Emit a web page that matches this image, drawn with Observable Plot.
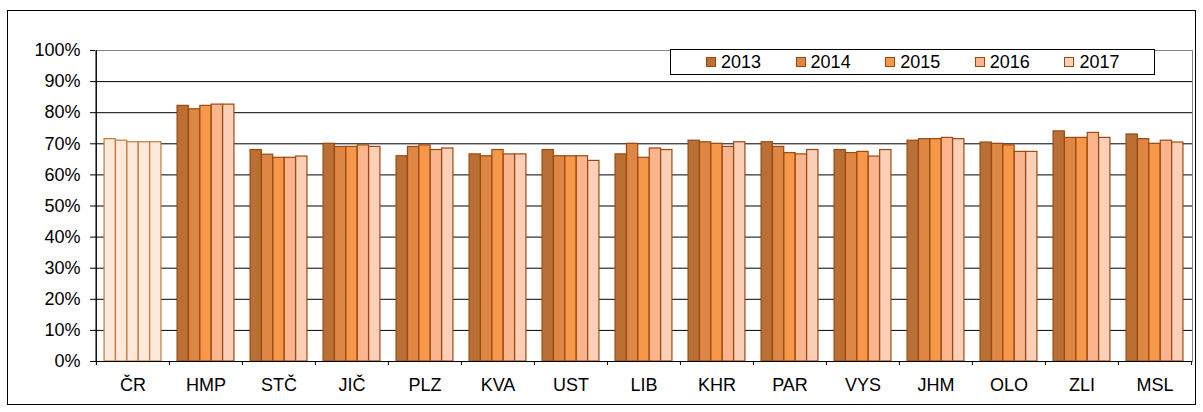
<!DOCTYPE html>
<html><head><meta charset="utf-8">
<script src="https://cdn.jsdelivr.net/npm/d3@7"></script>
<script src="https://cdn.jsdelivr.net/npm/@observablehq/plot@0.6"></script>
<style>
body{margin:0;background:#fff;}
#wrap{position:relative;width:1203px;height:412px;font-family:"Liberation Sans",Arial,sans-serif;color:#000;overflow:hidden}
#chart{position:absolute;left:0;top:0}
#outer{position:absolute;left:7px;top:10px;width:1189px;height:395px;border:1px solid #000;box-sizing:border-box;pointer-events:none}
#legend{position:absolute;left:670px;top:49px;width:485px;height:26px;border:1px solid #000;background:#fff;box-sizing:border-box;display:flex;align-items:center;padding-left:35px}
.item{display:flex;align-items:center;width:91.3px;font-size:18px;line-height:1}
.sw{width:10px;height:10px;border:1px solid #9a4a10;box-sizing:border-box;margin-right:5px}
</style>
</head><body>
<div id="wrap"><div id="chart"></div><div id="outer"></div><div id="legend"></div></div>
<script>
const regions = ["ČR","HMP","STČ","JIČ","PLZ","KVA","UST","LIB","KHR","PAR","VYS","JHM","OLO","ZLI","MSL"];
const years = ["2013","2014","2015","2016","2017"];
const v2013 = [71.5, 82.2, 68.0, 70.0, 66.0, 66.6, 68.0, 66.6, 71.0, 70.5, 68.0, 71.0, 70.4, 74.0, 73.0];
const v2014 = [71.0, 81.1, 66.5, 69.0, 69.0, 66.0, 66.0, 70.0, 70.5, 69.0, 67.0, 71.5, 70.0, 71.9, 71.5];
const v2015 = [70.5, 82.2, 65.5, 69.0, 69.5, 68.0, 66.0, 65.5, 70.0, 67.0, 67.4, 71.5, 69.5, 71.9, 70.0];
const v2016 = [70.5, 82.6, 65.5, 69.5, 68.0, 66.6, 66.0, 68.5, 69.0, 66.6, 65.9, 71.9, 67.4, 73.5, 71.0];
const v2017 = [70.5, 82.6, 65.9, 69.0, 68.5, 66.6, 64.5, 68.0, 70.5, 68.0, 68.0, 71.5, 67.4, 71.9, 70.4];
const yTicks = [0, 0.1, 0.2, 0.3, 0.4, 0.5, 0.6, 0.7, 0.8, 0.9, 1.0];
const gridVals = [0.1, 0.2, 0.3, 0.4, 0.5, 0.6, 0.7, 0.8, 0.9];
const yearColors = ["#BA7035", "#DE8644", "#F7974A", "#FAB58E", "#FCD0B8"];
const crFill = "#FDE9D9", crStroke = "#C47A40", barStroke = "#9A4A10";

const series = [v2013, v2014, v2015, v2016, v2017];
const rows = [];
series.forEach((vals, yi) => vals.forEach((v, ri) => rows.push({region: regions[ri], year: years[yi], yi, value: v / 100})));

const W = 1203, H = 412, mL = 95, mR = 11, mT = 50, mB = 51;
const bw = (W - mL - mR) / regions.length;
const gw = 57, barW = gw / years.length, left0 = (bw - gw) / 2;

const barMarks = years.map((y, i) => Plot.barY(rows.filter(d => d.yi === i), {
  x: "region", y: "value",
  fill: d => d.region === "ČR" ? crFill : yearColors[i],
  stroke: d => d.region === "ČR" ? crStroke : barStroke,
  strokeWidth: 1.2,
  insetLeft: left0 + i * barW,
  insetRight: bw - left0 - (i + 1) * barW
}));

const plot = Plot.plot({
  width: W, height: H,
  marginLeft: mL, marginRight: mR, marginTop: mT, marginBottom: mB,
  style: {fontFamily: '"Liberation Sans", Arial, sans-serif', fontSize: "18px", color: "#000", background: "transparent"},
  x: {domain: regions, padding: 0},
  y: {domain: [0, 1]},
  color: {type: "identity"},
  marks: [
    Plot.frame({stroke: "#868686"}),
    Plot.ruleY(gridVals, {stroke: "#000", strokeWidth: 1}),
    ...barMarks,
    Plot.ruleY([0], {stroke: "#000"}),
    Plot.ruleX([regions[0]], {y1: -0.013, y2: 1, dx: -bw / 2, stroke: "#000"}),
    Plot.ruleX(regions, {y1: 0, y2: -0.013, dx: -bw / 2, stroke: "#000"}),
    Plot.ruleX([regions[regions.length - 1]], {y1: 0, y2: -0.013, dx: bw / 2, stroke: "#000"}),
    Plot.axisY({ticks: yTicks, tickFormat: d3.format(".0%"), tickSize: 5, tickPadding: 10, label: null, fontSize: 18}),
    Plot.axisX({tickSize: 0, tickPadding: 17, label: null, fontSize: 18})
  ]
});
document.getElementById("chart").appendChild(plot);

const legend = document.getElementById("legend");
years.forEach((y, i) => {
  const it = document.createElement("div");
  it.className = "item";
  const sw = document.createElement("span");
  sw.className = "sw";
  sw.style.background = yearColors[i];
  it.appendChild(sw);
  const t = document.createElement("span");
  t.textContent = y;
  it.appendChild(t);
  legend.appendChild(it);
});
</script>
</body></html>
